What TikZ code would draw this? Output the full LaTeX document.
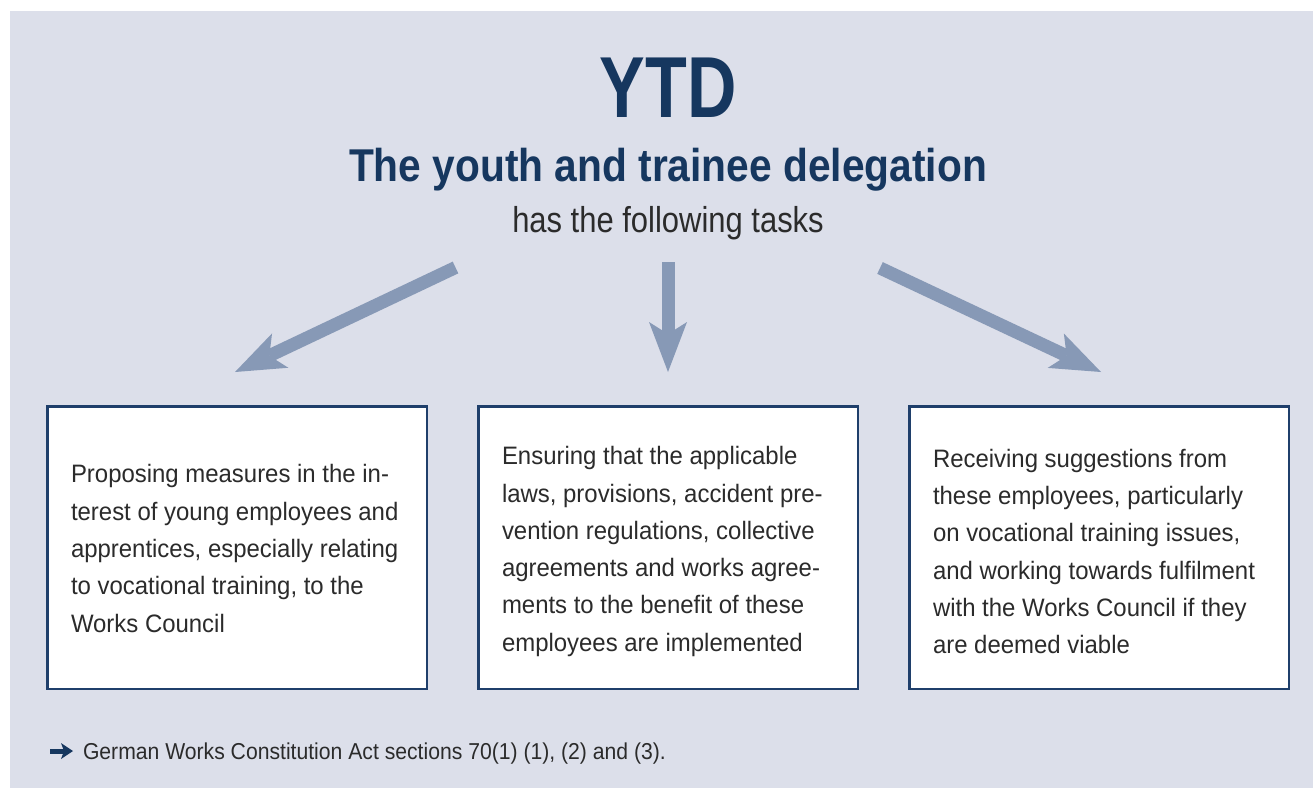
\documentclass[tikz,border=0pt]{standalone}
\usepackage{fontspec}
\setmainfont{Liberation Sans}
\newfontfamily\ytdfont[FakeStretch=0.79]{Liberation Sans}
\newfontfamily\subfont[FakeStretch=0.885]{Liberation Sans}
\newfontfamily\hasfont[FakeStretch=0.86]{Liberation Sans}
\newfontfamily\taskfont[FakeStretch=0.95]{Liberation Sans}
\newfontfamily\notefont[FakeStretch=0.92]{Liberation Sans}
\usetikzlibrary{arrows.meta}
\definecolor{bgc}{HTML}{DCDFEA}
\definecolor{arrc}{HTML}{8799B6}
\definecolor{navy}{HTML}{16375F}
\definecolor{boxc}{HTML}{1F3F6B}
\definecolor{txt}{HTML}{2B2B2B}
\tikzset{
  plain/.style={inner sep=0pt, outer sep=0pt},
  bigarrow/.style={draw=arrc, line width=13pt,
    -{Stealth[length=50pt,width=38pt,inset=12pt,line width=0pt]}},
  notearrowstyle/.style={draw=navy, line width=5pt,
    -{Stealth[length=12pt,width=16pt,inset=3pt,line width=0pt]}},
  taskbox/.style={draw=boxc, fill=white, line width=2.5pt,
    minimum width=379.5pt, minimum height=282.5pt, inner sep=0pt},
  tasktext/.style={plain, align=left, text=txt,
    font=\taskfont\fontsize{25.2}{37.3}\selectfont},
}
\begin{document}
\begin{tikzpicture}[x=1pt,y=-1pt]
\useasboundingbox (0,0) rectangle (1313,788);
\fill[bgc] (10,11) rectangle (1313,788);

\node[plain, anchor=base, text=navy, font=\ytdfont\bfseries\fontsize{86.6}{90}\selectfont] (ytd) at (668,117) {YTD};
\node[plain, anchor=base, text=navy, font=\subfont\bfseries\fontsize{46}{50}\selectfont] (sub) at (668,181) {The youth and trainee delegation};
\node[plain, anchor=base, text=txt, font=\hasfont\fontsize{36}{40}\selectfont] (has) at (668,232) {has the following tasks};

\node[taskbox] (b1) at (237,547.5) {};
\node[taskbox] (b2) at (668,547.5) {};
\node[taskbox] (b3) at (1099,547.5) {};

\node[tasktext, anchor=west] (t1) at ([xshift=25pt,yshift=-1pt]b1.west) {Proposing measures in the in-\\terest of young employees and\\apprentices, especially relating\\to vocational training, to the\\Works Council};
\node[tasktext, anchor=west] (t2) at ([xshift=25pt,yshift=-4pt]b2.west) {Ensuring that the applicable\\laws, provisions, accident pre-\\vention regulations, collective\\agreements and works agree-\\ments to the benefit of these\\employees are implemented};
\node[tasktext, anchor=west] (t3) at ([xshift=25pt,yshift=-4pt]b3.west) {Receiving suggestions from\\these employees, particularly\\on vocational training issues,\\and working towards fulfilment\\with the Works Council if they\\are deemed viable};

\coordinate (a1s) at (455.5,267.5);
\coordinate (a1e) at (235,372);
\coordinate (a2s) at (668,262);
\coordinate (a2e) at (668,372);
\coordinate (a3s) at (880,268);
\coordinate (a3e) at (1101,372);
\draw[bigarrow] (a1s) -- (a1e);
\draw[bigarrow] (a2s) -- (a2e);
\draw[bigarrow] (a3s) -- (a3e);

\coordinate (n1) at (50,751);
\coordinate (n2) at (73,751);
\draw[notearrowstyle] (n1) -- (n2);
\node[plain, anchor=base west, text=txt, font=\notefont\fontsize{23}{26}\selectfont] (note) at (83,759)
  {German Works Constitution Act sections 70(1) (1), (2) and (3).};
\end{tikzpicture}
\end{document}
